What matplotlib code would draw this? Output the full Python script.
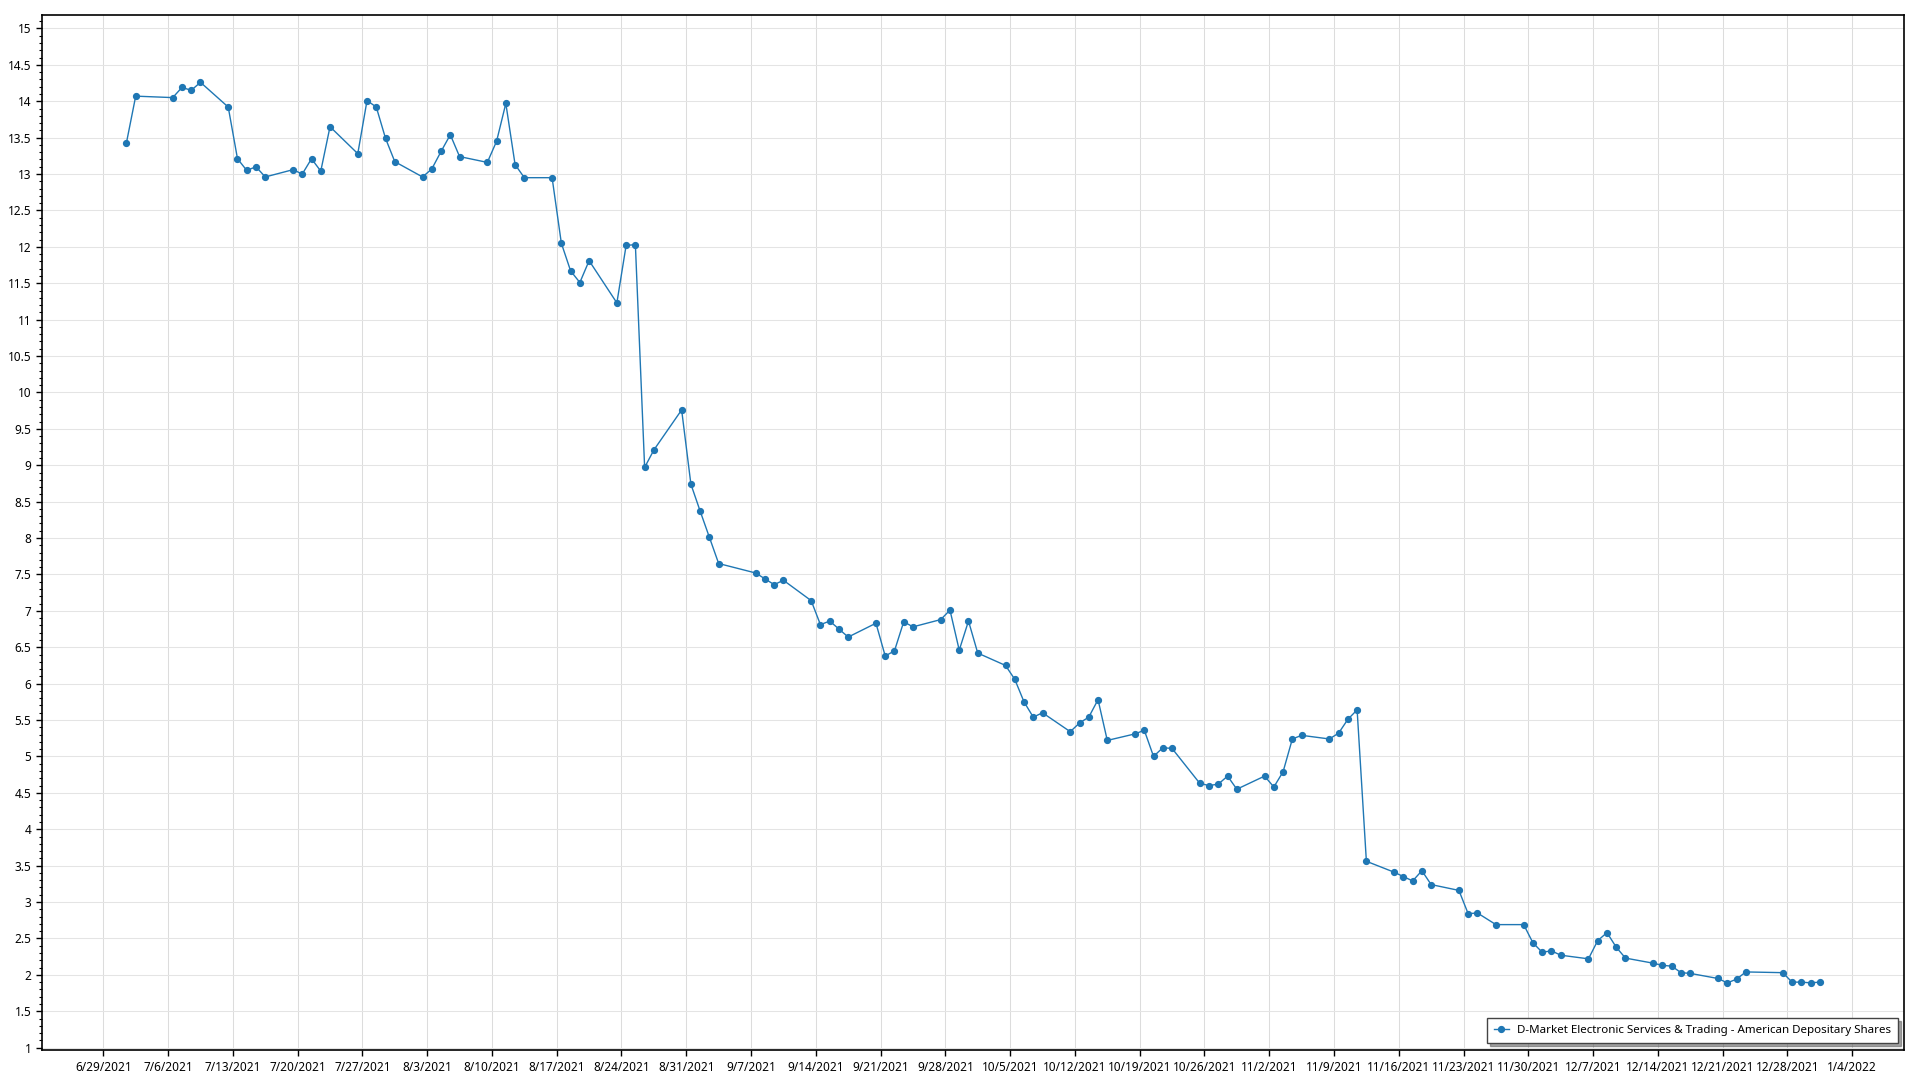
import matplotlib.pyplot as plt
import matplotlib.dates as mdates
import numpy as np
import pandas as pd
from matplotlib.ticker import MultipleLocator, FuncFormatter

plt.rcParams["font.family"] = ["Noto Sans", "DejaVu Sans"]

series_name = "D-Market Electronic Services & Trading - American Depositary Shares"

# US market holidays in the period, trading days are the other weekdays
holidays = ["2021-07-05", "2021-09-06", "2021-11-25", "2021-12-24"]
start_day = "2021-07-01"
end_day = "2021-12-31"

prices = [
    # July
    13.43, 14.07, 14.05, 14.19, 14.15, 14.26, 13.92, 13.21, 13.05, 13.10, 12.96,
    13.06, 13.00, 13.21, 13.04, 13.65, 13.28, 14.01, 13.92, 13.49, 13.17,
    # August
    12.96, 13.07, 13.31, 13.54, 13.24, 13.16, 13.45, 13.97, 13.13, 12.95, 12.95,
    12.05, 11.67, 11.51, 11.81, 11.23, 12.02, 12.03, 8.97, 9.21, 9.76, 8.74,
    # September
    8.37, 8.01, 7.65, 7.52, 7.44, 7.36, 7.42, 7.14, 6.81, 6.86, 6.75,
    6.64, 6.83, 6.38, 6.45, 6.85, 6.78, 6.88, 7.01, 6.46, 6.86,
    # October
    6.42, 6.25, 6.06, 5.75, 5.54, 5.60, 5.34, 5.46, 5.54, 5.78, 5.22,
    5.31, 5.36, 5.00, 5.12, 5.11, 4.63, 4.60, 4.62, 4.73, 4.55,
    # November
    4.73, 4.58, 4.79, 5.24, 5.29, 5.24, 5.32, 5.51, 5.64, 3.56, 3.41,
    3.35, 3.29, 3.43, 3.24, 3.16, 2.84, 2.85, 2.69, 2.69, 2.44,
    # December
    2.31, 2.33, 2.27, 2.22, 2.47, 2.58, 2.38, 2.23, 2.16, 2.13, 2.12,
    2.03, 2.02, 1.95, 1.89, 1.94, 2.04, 2.03, 1.90, 1.90, 1.89, 1.90,
]

days = pd.bdate_range(start_day, end_day, freq="C", holidays=holidays)
days = days + pd.Timedelta(hours=12)

fig = plt.figure(figsize=(19.2, 10.8), dpi=100)
ax = fig.add_axes([0.0221, 0.0278, 0.9698, 0.958])

ax.plot(days, prices, color="#1f77b4", linewidth=1.0, marker="o",
        markersize=4.2, label=series_name, zorder=3)

# axis ranges
x0 = mdates.date2num(pd.Timestamp("2021-06-29")) - 6.58
x1 = mdates.date2num(pd.Timestamp("2022-01-04")) + 5.65
ax.set_xlim(x0, x1)
ax.set_ylim(0.968, 15.18)

ax.xaxis.set_major_locator(mdates.WeekdayLocator(byweekday=mdates.TU, interval=1))
ax.xaxis.set_major_formatter(
    FuncFormatter(lambda v, p: "{d.month}/{d.day}/{d.year}".format(d=mdates.num2date(v))))
ax.yaxis.set_major_locator(MultipleLocator(0.5))
ax.yaxis.set_minor_locator(MultipleLocator(0.1))
ax.yaxis.set_major_formatter(FuncFormatter(lambda v, p: "%g" % v))

ax.grid(True, which="major", axis="x", color="#dcdcdc", linewidth=0.75)
ax.grid(True, which="major", axis="y", color="#e4e4e4", linewidth=0.75)
ax.set_axisbelow(True)

ax.tick_params(axis="both", which="major", direction="out", length=4, width=1,
               labelsize=8.5, colors="black", pad=4)
ax.tick_params(axis="y", which="minor", direction="out", length=2, width=0.8)
for s in ax.spines.values():
    s.set_color("black")
    s.set_linewidth(1.2)

leg = ax.legend(loc="lower right", fontsize=8.3, frameon=True, fancybox=False,
                shadow=True, borderpad=0.6, handlelength=1.3, handletextpad=0.7,
                borderaxespad=0, bbox_to_anchor=(0.9965, 0.0068))
leg.get_frame().set_edgecolor("#444444")
leg.get_frame().set_linewidth(1.0)

plt.savefig("out.png", dpi=100)
